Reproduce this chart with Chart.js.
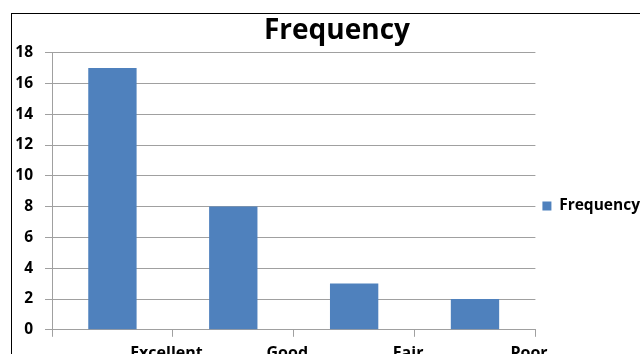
<!DOCTYPE html>
<html>
<head>
<meta charset="utf-8">
<script src="https://cdn.jsdelivr.net/npm/chart.js@4/dist/chart.umd.min.js"></script>
<style>
  html, body { margin: 0; padding: 0; background: #fff; overflow: hidden; width: 640px; height: 354px; }
  #frame {
    position: absolute; left: 11px; top: 13px;
    border-left: 1px solid #000; border-top: 1px solid #000;
    width: 652px; height: 360px;
  }
  #chart { display: block; }
</style>
</head>
<body>
<div id="frame"><canvas id="chart" width="652" height="360"></canvas></div>
<script>
// Survey ratings and how many responses each received
const categories = ['Excellent', 'Good', 'Fair', 'Poor'];
const frequency = [17, 8, 3, 2];
const seriesName = 'Frequency';
const yTicks = { min: 0, max: 18, step: 2 };

const gridGray = '#a0a0a0';
const family = '"Open Sans", Lato, sans-serif';
const xTickFont = { family, size: 16, weight: 'bold' };
const yTickFont = { family, size: 15.5, weight: 'bold' };
const legendFont = { family, size: 15.5, weight: 'bold' };

// The frame's full width runs past the right edge of the page; centre the
// heading on that whole frame rather than on the visible part.
const titleShift = {
  id: 'titleShift',
  afterLayout(chart) {
    const t = chart.titleBlock;
    if (t) { t.left += 5; t.right += 5; }
  }
};

new Chart(document.getElementById('chart'), {
  type: 'bar',
  data: {
    labels: categories,
    datasets: [{
      label: seriesName,
      data: frequency,
      backgroundColor: '#4f81bd',
      borderWidth: 0,
      barPercentage: 0.4,
      categoryPercentage: 1.0
    }]
  },
  options: {
    responsive: false,
    animation: false,
    layout: { padding: { left: 2, right: 14, top: 0, bottom: 4 } },
    plugins: {
      title: {
        display: true,
        text: seriesName,
        color: '#000',
        font: { family, size: 28, weight: 'bold' },
        padding: { top: 0, bottom: 5 }
      },
      legend: {
        position: 'right',
        align: 'center',
        // empty heading only reserves room, nudging the entry lower
        title: { display: true, text: '', font: { size: 15, lineHeight: 1.2 }, padding: { top: 10, bottom: 0 } },
        labels: {
          boxWidth: 9,
          boxHeight: 9,
          padding: 7,
          color: '#000',
          font: legendFont
        }
      },
      tooltip: { enabled: false }
    },
    scales: {
      x: {
        grid: {
          display: true,
          drawOnChartArea: false,
          drawTicks: true,
          tickLength: 7,
          color: gridGray,
          offset: true
        },
        border: { color: gridGray },
        ticks: {
          color: '#000',
          font: xTickFont,
          padding: 7,
          labelOffset: 54,
          maxRotation: 0
        }
      },
      y: {
        min: yTicks.min,
        max: yTicks.max,
        grid: { color: gridGray, tickLength: 7 },
        border: { color: gridGray },
        ticks: {
          stepSize: yTicks.step,
          color: '#000',
          font: yTickFont,
          padding: 12
        },
        afterFit(scale) { scale.width = 38; }
      }
    }
  },
  plugins: [titleShift]
});
</script>
</body>
</html>
